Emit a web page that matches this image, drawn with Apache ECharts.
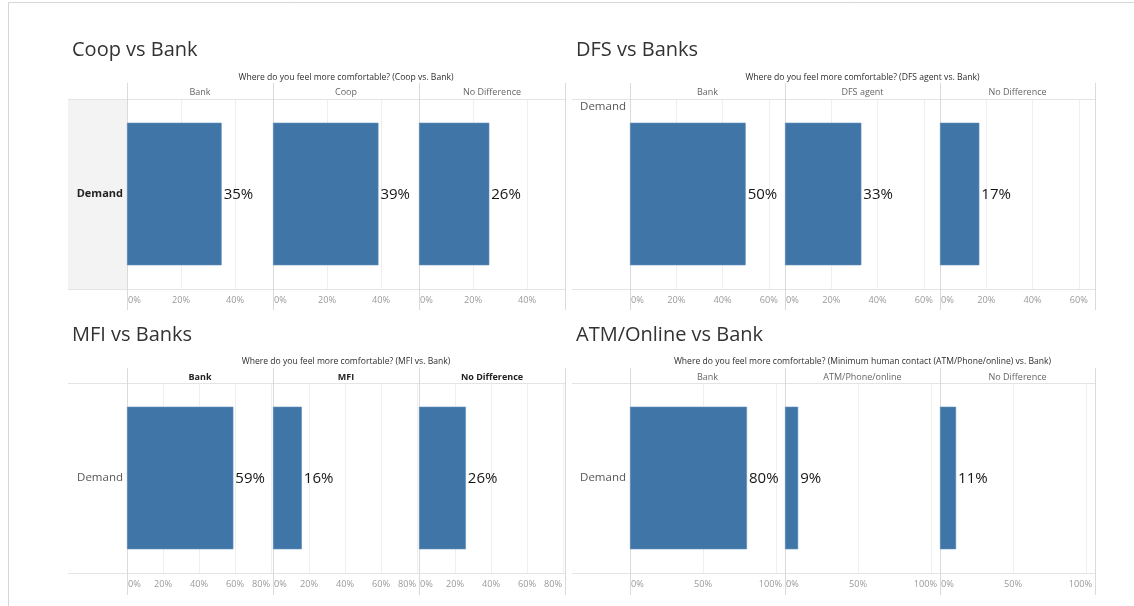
<!DOCTYPE html>
<html>
<head>
<meta charset="utf-8">
<script src="https://cdn.jsdelivr.net/npm/echarts@6/dist/echarts.min.js"></script>
<style>
  html, body { margin: 0; padding: 0; background: #ffffff; }
  #chart { width: 1134px; height: 606px; }
</style>
</head>
<body>
<div id="chart"></div>
<script>
// ---- data ----
const panelTitles = ['Coop vs Bank', 'DFS vs Banks', 'MFI vs Banks', 'ATM/Online vs Bank'];
const questionTexts = [
  'Where do you feel more comfortable? (Coop vs. Bank)',
  'Where do you feel more comfortable? (DFS agent vs. Bank)',
  'Where do you feel more comfortable? (MFI vs. Bank)',
  'Where do you feel more comfortable? (Minimum human contact (ATM/Phone/online) vs. Bank)'
];
const rowLabels = ['Demand'];

const coopColumns = ['Bank', 'Coop', 'No Difference'];
const coopShares  = [0.35, 0.39, 0.26];
const dfsColumns  = ['Bank', 'DFS agent', 'No Difference'];
const dfsShares   = [0.50, 0.33, 0.17];
const mfiColumns  = ['Bank', 'MFI', 'No Difference'];
const mfiShares   = [0.59, 0.16, 0.26];
const atmColumns  = ['Bank', 'ATM/Phone/online', 'No Difference'];
const atmShares   = [0.80, 0.09, 0.11];

// axis extent and tick step of each panel
const axisMax  = [0.54, 0.67, 0.81, 1.06];
const axisStep = [0.2, 0.2, 0.2, 0.5];

const panelColumns = [coopColumns, dfsColumns, mfiColumns, atmColumns];
const panelShares  = [coopShares, dfsShares, mfiShares, atmShares];

// ---- layout & style ----
const FONT = '"Open Sans", "Noto Sans", sans-serif';
const BAR = '#4076a7';
const layout = [
  { left: 68,  start: 127, colW: 146, top: 99,  bottom: 289, titleX: 72,  titleY: 50,  qY: 78,  hY: 92,  lineTop: 83,  lineBot: 310 },
  { left: 572, start: 630, colW: 155, top: 99,  bottom: 289, titleX: 576, titleY: 50,  qY: 78,  hY: 92,  lineTop: 83,  lineBot: 310 },
  { left: 68,  start: 127, colW: 146, top: 383, bottom: 573, titleX: 72,  titleY: 335, qY: 362, hY: 377, lineTop: 368, lineBot: 595 },
  { left: 572, start: 630, colW: 155, top: 383, bottom: 573, titleX: 576, titleY: 335, qY: 362, hY: 377, lineTop: 368, lineBot: 595 }
];
const panelStyle = [
  { rowMode: 'center', rowBold: true,  headBold: false, rowFill: true },
  { rowMode: 'top',    rowBold: false, headBold: false, rowFill: false },
  { rowMode: 'center', rowBold: false, headBold: true,  rowFill: false },
  { rowMode: 'center', rowBold: false, headBold: false, rowFill: false }
];

const TICK_FONT = 9.2;
const measureCtx = document.createElement('canvas').getContext('2d');
measureCtx.font = TICK_FONT + 'px "Open Sans"';
const textW = t => measureCtx.measureText(t).width;
const pct = v => Math.round(v * 100) + '%';

const grids = [], xAxes = [], yAxes = [], series = [], graphics = [];

const hLine = (x1, x2, y, color) => graphics.push({
  type: 'line', silent: true, z: 1,
  shape: { x1: x1, y1: y + 0.5, x2: x2, y2: y + 0.5 },
  style: { stroke: color, lineWidth: 1 }
});
const vLine = (x, y1, y2, color) => graphics.push({
  type: 'line', silent: true, z: 1,
  shape: { x1: x + 0.5, y1: y1, x2: x + 0.5, y2: y2 },
  style: { stroke: color, lineWidth: 1 }
});
const text = (str, x, y, size, color, align, weight, vAlign) => graphics.push({
  type: 'text', silent: true, z: 5,
  style: {
    text: str, x: x, y: y,
    font: (weight || 'normal') + ' ' + size + 'px ' + FONT,
    fill: color,
    align: align, textAlign: align,
    verticalAlign: vAlign || 'middle', textVerticalAlign: vAlign || 'middle'
  }
});

panelTitles.forEach((title, pi) => {
  const L = layout[pi];
  const S = panelStyle[pi];
  const cols = panelColumns[pi];
  const right = L.start + cols.length * L.colW;
  const max = axisMax[pi];
  const step = axisStep[pi];

  // row header shading
  if (S.rowFill) {
    graphics.push({
      type: 'rect', silent: true, z: 0,
      shape: { x: L.left, y: L.top, width: L.start - L.left, height: L.bottom - L.top },
      style: { fill: '#f3f3f3' }
    });
  }

  // titles and headers
  text(title, L.titleX, L.titleY, 20, '#333333', 'left');
  text(questionTexts[pi], (L.start + right) / 2, L.qY, 8.6, '#2e2e2e', 'center');
  cols.forEach((c, ci) => {
    text(c, L.start + (ci + 0.5) * L.colW, L.hY, 9, S.headBold ? '#222222' : '#666666', 'center', S.headBold ? 'bold' : 'normal');
  });
  if (S.rowMode === 'top') {
    text(rowLabels[0], L.start - 4, L.top + 8, 11.5, '#555555', 'right');
  }

  // pane borders and column dividers
  hLine(L.left, right, L.top, '#e4e4e4');
  hLine(L.left, right, L.bottom, '#e4e4e4');
  for (let k = 0; k <= cols.length; k++) {
    vLine(L.start + k * L.colW, L.lineTop, L.lineBot, '#dadada');
  }

  // tick label placement: first label starts at the pane edge, labels close
  // to the right edge are pulled inside the pane
  const lastTick = Math.floor(max / step + 1e-9) * step;
  const lastTxt = pct(lastTick);
  const half = textW(lastTxt) / 2;
  const room = L.colW * (max - lastTick) / max;
  const shift = Math.max(0, half + 3 - room);
  const firstW = textW(pct(0));

  cols.forEach((c, ci) => {
    const gi = grids.length;
    grids.push({
      left: L.start + ci * L.colW, top: L.top,
      width: L.colW, height: L.bottom - L.top,
      containLabel: false, outerBoundsMode: 'none'
    });
    xAxes.push({
      type: 'value', gridIndex: gi, min: 0, max: max, interval: step,
      axisLine: { show: false }, axisTick: { show: false },
      splitLine: { show: true, lineStyle: { color: '#efefef', width: 1 } },
      axisLabel: {
        show: true, showMaxLabel: false, margin: 7,
        fontSize: TICK_FONT, color: '#9a9a9a', fontFamily: FONT,
        formatter: v => {
          if (Math.abs(v - max) < 1e-9) return '';
          if (v === 0) return '{a|' + pct(v) + '}';
          if (shift > 0 && Math.abs(v - lastTick) < 1e-9) return '{b|' + pct(v) + '}';
          return pct(v);
        },
        rich: {
          a: { width: 2 * firstW + 2, align: 'right', fontSize: TICK_FONT, color: '#9a9a9a', fontFamily: FONT },
          b: { width: 2 * (half + shift), align: 'left', fontSize: TICK_FONT, color: '#9a9a9a', fontFamily: FONT }
        }
      }
    });
    yAxes.push({
      type: 'category', gridIndex: gi, data: rowLabels,
      axisLine: { show: false }, axisTick: { show: false }, splitLine: { show: false },
      axisLabel: {
        show: ci === 0 && S.rowMode === 'center', margin: 4,
        fontSize: S.rowBold ? 11 : 11.5, fontFamily: FONT,
        fontWeight: S.rowBold ? 'bold' : 'normal',
        color: S.rowBold ? '#222222' : '#555555'
      }
    });
    series.push({
      type: 'bar', xAxisIndex: gi, yAxisIndex: gi,
      data: [panelShares[pi][ci]],
      barWidth: '75%', silent: true,
      itemStyle: { color: BAR, borderColor: '#5a8bb8', borderWidth: 0.6 },
      label: {
        show: true, position: 'right', distance: 2, offset: [0, 1],
        formatter: p => pct(p.value),
        fontSize: 15, fontWeight: 500, color: '#161616', fontFamily: FONT
      }
    });
  });
});

// outer frame of the dashboard
hLine(8, 1134, 2, '#d6d6d6');
vLine(8, 2, 606, '#d6d6d6');

const chart = echarts.init(document.getElementById('chart'), null, { renderer: 'canvas' });
chart.setOption({
  animation: false,
  backgroundColor: '#ffffff',
  grid: grids,
  xAxis: xAxes,
  yAxis: yAxes,
  series: series,
  graphic: { elements: graphics }
});
</script>
</body>
</html>
